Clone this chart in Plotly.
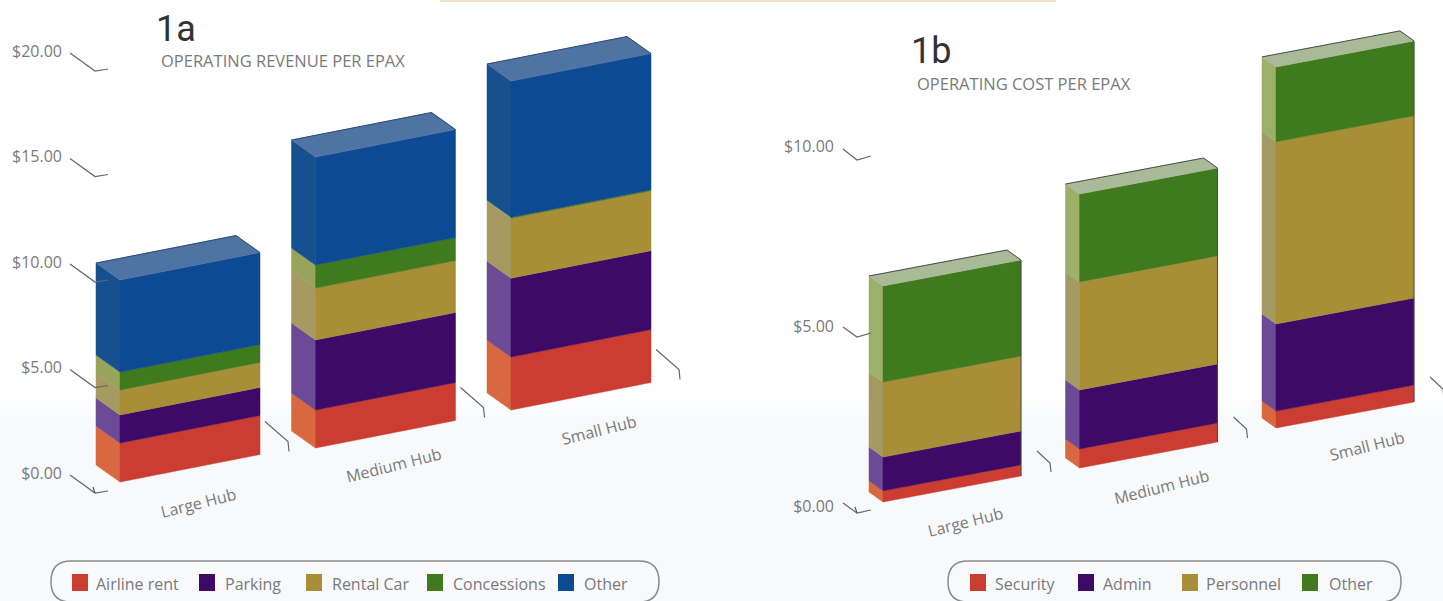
import plotly.graph_objects as go

W, H = 1443, 601

# Hub categories and per-passenger dollar values, bottom segment first
hubs = ["Large Hub", "Medium Hub", "Small Hub"]

revenue_series = ["Airline rent", "Parking", "Rental Car", "Concessions", "Other"]
airline_rent = [1.85, 1.80, 2.51]
parking = [1.33, 3.32, 3.74]
rental_car = [1.18, 2.46, 2.84]
concessions = [0.85, 1.09, 0.05]
other_revenue = [4.36, 5.12, 6.45]

cost_series = ["Security", "Admin", "Personnel", "Other"]
security = [0.31, 0.53, 0.47]
admin = [0.94, 1.64, 2.42]
personnel = [2.08, 3.00, 5.06]
other_cost = [2.67, 2.44, 2.08]

revenue_ticks = [0, 5, 10, 15, 20]
cost_ticks = [0, 5, 10]
tick_format = "${:.2f}"

# Colours: front face, side face
RED = ("#cb3d30", "#d8683f")
PURPLE = ("#3e0a68", "#6b4b95")
OLIVE = ("#a98e38", "#a59b62")
GREEN = ("#3f7a1f", "#98a45c")
BLUE = ("#0c4a93", "#17508f")
GREEN_B = ("#3f7a1f", "#9db06a")
INK = "#7a7a7a"
FONT = "Open Sans"

panels = [
    dict(
        title="1a", subtitle="OPERATING REVENUE PER EPAX", xa="x", ya="y",
        series=revenue_series,
        values=[airline_rent, parking, rental_car, concessions, other_revenue],
        colours=[RED, PURPLE, OLIVE, GREEN, BLUE], top="#4f74a3", edge="#2f4a70",
        right_edge=False,
        ticks=revenue_ticks, axis_px=63, right_px=720,
        zero_px=473, px_per_dollar=21.1, first_bar_px=120, spacing=195.5,
        bar_w=140, depth=(-24, -17), pitch=27.5, floor=[482, 448, 410],
        hook_x=(70, 95, 108), hook_y=[(2, 20, 18)] * 5,
        base_hook=[(5, -33), (28, -13), (29, -3)],
        labels=[(198, 503), (394, 465), (599, 430)],
        title_xy=(154, 29), sub_xy=(159, 60),
        box=(51, 659), swatches=[72, 199, 306, 427, 558],
        legend_text=[94, 223, 330, 451, 582],
    ),
    dict(
        title="1b", subtitle="OPERATING COST PER EPAX", xa="x2", ya="y2",
        series=cost_series,
        values=[security, admin, personnel, other_cost],
        colours=[RED, PURPLE, OLIVE, GREEN_B], top="#a9ba98", edge="#4a4a4a",
        right_edge=True,
        ticks=cost_ticks, axis_px=835, right_px=W,
        zero_px=506, px_per_dollar=36, first_bar_px=883, spacing=196.5,
        bar_w=138, depth=(-14, -10), pitch=26, floor=[502, 468, 428],
        hook_x=(843, 857, 871), hook_y=[(-3, 7, 4), (1, 11, 7), (3, 14, 10)],
        base_hook=[(16, -25), (29, -13), (30, -4)],
        labels=[(965, 522), (1161, 487), (1367, 446)],
        title_xy=(909, 51), sub_xy=(915, 83),
        box=(948, 1401), swatches=[970, 1078, 1182, 1302],
        legend_text=[993, 1101, 1204, 1327],
    ),
]


def paper(x, y):
    return x / W, 1 - y / H


def rounded_box(x0, x1, y0, y1, r):
    px = lambda x, y: "{:.5f},{:.5f}".format(*paper(x, y))
    return (
        f"M {px(x0 + r, y1)} L {px(x1 - r, y1)} "
        f"Q {px(x1, y1)} {px(x1, (y0 + y1) / 2)} Q {px(x1, y0)} {px(x1 - r, y0)} "
        f"L {px(x0 + r, y0)} Q {px(x0, y0)} {px(x0, (y0 + y1) / 2)} "
        f"Q {px(x0, y1)} {px(x0 + r, y1)} Z"
    )


fig = go.Figure()
shapes = [
    # Printed strip along the top edge
    dict(type="rect", xref="paper", yref="paper", x0=paper(440, 0)[0], x1=paper(1056, 0)[0],
         y0=paper(0, 2)[1], y1=1, fillcolor="#f0e4c2", line_width=0, layer="below"),
]
# Paper tone deepening gently towards the foot of the page
for top_px, tone in [(400, "#fcfcfd"), (408, "#fafbfc"), (416, "#f8f9fb")]:
    shapes.append(dict(type="rect", xref="paper", yref="paper", x0=0, x1=1, y0=0,
                       y1=paper(0, top_px)[1], fillcolor=tone, line_width=0, layer="below"))
annotations = []
layout_axes = {}

for n, p in enumerate(panels):
    sx, sy = p["spacing"], p["px_per_dollar"]
    xname = "xaxis" if n == 0 else "xaxis2"
    yname = "yaxis" if n == 0 else "yaxis2"
    x_min = (p["axis_px"] - p["first_bar_px"]) / sx
    x_max = (p["right_px"] - p["first_bar_px"]) / sx
    layout_axes[xname] = dict(
        domain=[p["axis_px"] / W, p["right_px"] / W], range=[x_min, x_max],
        visible=False, fixedrange=True,
    )
    layout_axes[yname] = dict(
        domain=[0, 1], range=[(p["zero_px"] - H) / sy, p["zero_px"] / sy],
        tickvals=p["ticks"], ticktext=[tick_format.format(t) for t in p["ticks"]],
        showgrid=False, zeroline=False, showline=False, ticks="", fixedrange=True,
        tickfont=dict(family=FONT, size=16, color=INK), anchor=p["xa"],
    )
    if n:
        layout_axes[xname]["anchor"] = "y2"

    w = p["bar_w"] / sx
    pitch = p["pitch"] / sy
    dx, dy = p["depth"][0] / sx, -p["depth"][1] / sy

    def poly(xs, ys, colour, name):
        fig.add_trace(go.Scatter(
            x=xs, y=ys, mode="lines", fill="toself", fillcolor=colour,
            line=dict(color=colour, width=0.5), name=name, xaxis=p["xa"], yaxis=p["ya"],
            showlegend=False, hoverinfo="skip",
        ))

    def stroke(xs, ys, colour, width, name):
        fig.add_trace(go.Scatter(
            x=xs, y=ys, mode="lines", line=dict(color=colour, width=width), name=name,
            xaxis=p["xa"], yaxis=p["ya"], showlegend=False, hoverinfo="skip",
        ))

    for i, hub in enumerate(hubs):
        base = (p["zero_px"] - p["floor"][i]) / sy
        level = base
        for series, vals, (front, side) in zip(p["series"], p["values"], p["colours"]):
            top = level + vals[i]
            poly([i + dx, i, i, i + dx, i + dx],
                 [level + dy, level, top, top + dy, level + dy], side, series)
            poly([i, i + w, i + w, i, i],
                 [level, level + pitch, top + pitch, top, level], front, series)
            level = top
        # Lid of the column, with its darker rear edge
        poly([i, i + w, i + w + dx, i + dx, i],
             [level, level + pitch, level + pitch + dy, level + dy, level], p["top"], "top")
        stroke([i + dx, i + w + dx, i + w],
               [level + dy, level + pitch + dy, level + pitch], p["edge"], 1, "edge")
        if p["right_edge"]:
            stroke([i + w, i + w], [level + pitch, base + pitch], p["edge"], 1, "edge")

        # Bent tick beside each column foot
        hx = [i + w + o[0] / sx for o in p["base_hook"]]
        hy = [base + pitch - o[1] / sy for o in p["base_hook"]]
        stroke(hx, hy, "#666666", 1.2, "category tick")

        lx, ly = p["labels"][i]
        annotations.append(dict(
            x=lx / W, y=1 - ly / H, xref="paper", yref="paper", text=hub, showarrow=False,
            xanchor="center", yanchor="middle",
            textangle=-14, font=dict(family=FONT, size=16, color=INK),
        ))

    # Bent leaders running from each value label towards the columns
    hx = [(x - p["first_bar_px"]) / sx for x in p["hook_x"]]
    for t, offs in zip(p["ticks"], p["hook_y"]):
        stroke(hx, [t - o / sy for o in offs], "#666666", 1.2, "value tick")
    # Short stroke closing the leader at the zero line
    stroke([hx[1] - 2 / sx, hx[1]],
           [-p["hook_y"][0][1] / sy + 6 / sy, -p["hook_y"][0][1] / sy], "#555555", 1.2, "zero mark")

    tx, ty = p["title_xy"]
    annotations.append(dict(
        x=tx / W, y=1 - ty / H, xref="paper", yref="paper", text=p["title"], showarrow=False,
        xanchor="left", yanchor="middle", font=dict(family="Roboto", size=36, color="#333333"),
    ))
    sx0, sy0 = p["sub_xy"]
    annotations.append(dict(
        x=sx0 / W, y=1 - sy0 / H, xref="paper", yref="paper", text=p["subtitle"], showarrow=False,
        xanchor="left", yanchor="middle", font=dict(family=FONT, size=16.5, color=INK),
    ))

    # Key: rounded frame running off the page foot, swatches and names
    shapes.append(dict(type="path", xref="paper", yref="paper",
                       path=rounded_box(p["box"][0], p["box"][1], 561, 602, 20),
                       line=dict(color="#8c8c8c", width=1.5), fillcolor="rgba(0,0,0,0)"))
    for series, (front, _), sw, txt in zip(p["series"], p["colours"], p["swatches"], p["legend_text"]):
        x0, y0 = paper(sw, 574)
        x1, y1 = paper(sw + 16, 591)
        shapes.append(dict(type="rect", xref="paper", yref="paper", x0=x0, x1=x1, y0=y1, y1=y0,
                           fillcolor=front, line_width=0))
        lx, ly = paper(txt, 584)
        annotations.append(dict(
            x=lx, y=ly, xref="paper", yref="paper", text=series, showarrow=False,
            xanchor="left", yanchor="middle", font=dict(family=FONT, size=16, color=INK),
        ))

fig.update_layout(
    width=W, height=H, margin=dict(l=0, r=0, t=0, b=0), autosize=False,
    paper_bgcolor="#ffffff", plot_bgcolor="rgba(0,0,0,0)", showlegend=False,
    shapes=shapes, annotations=annotations, **layout_axes,
)
fig.write_html("out.html")
